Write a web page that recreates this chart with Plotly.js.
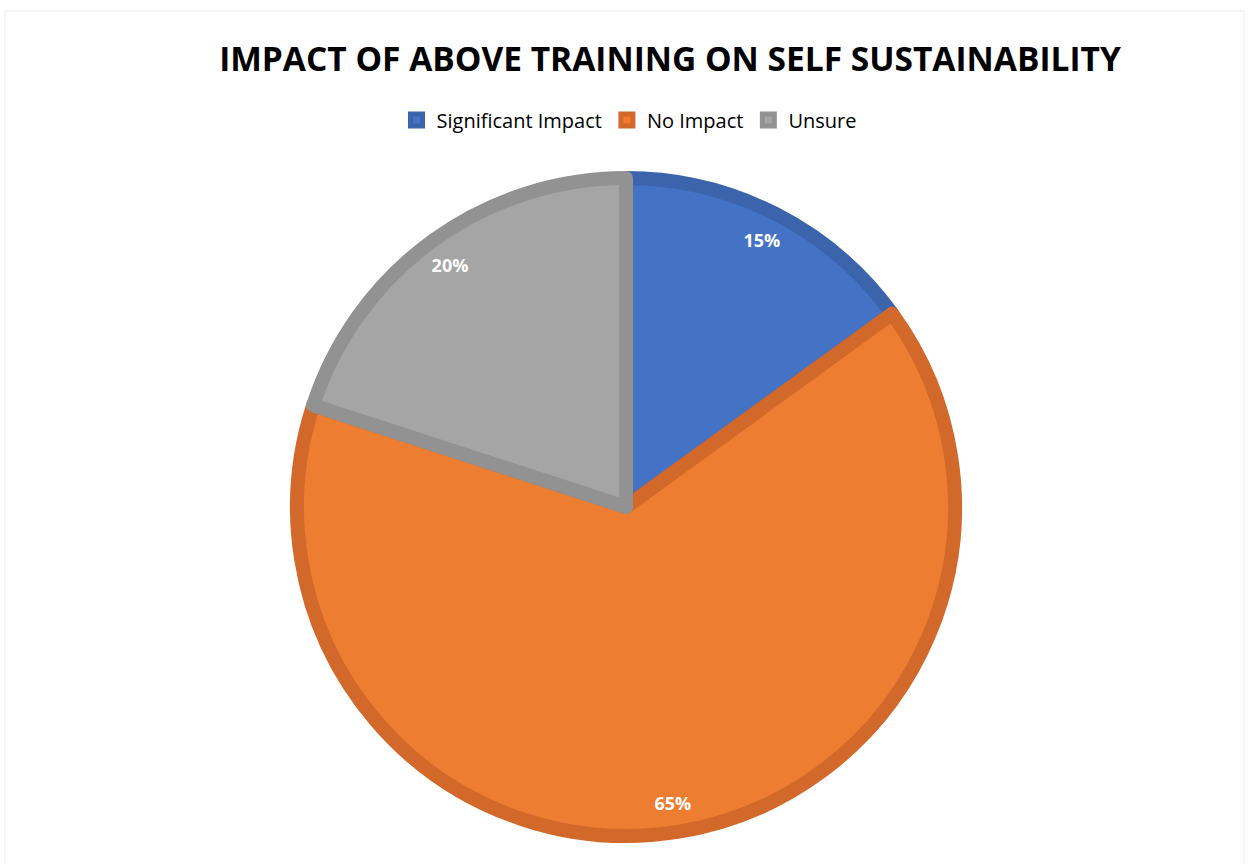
<!DOCTYPE html>
<html>
<head>
<meta charset="utf-8">
<script src="https://cdn.plot.ly/plotly-3.0.1.min.js"></script>
<style>html,body{margin:0;padding:0;background:#fff;}#chart{width:1249px;height:864px;}</style>
</head>
<body>
<div id="chart"></div>
<script>
const categories = ["Significant Impact", "No Impact", "Unsure"];
const shares = [15, 65, 20];
const sliceColors = ["#4472C4", "#ED7D31", "#A5A5A5"];
const edgeColors = ["#3B64AD", "#D2692A", "#929292"];

const W = 1249, H = 864;
const cx = 626, cy = 507, R = 329;
const dom = {
  x: [(cx - R) / W, (cx + R) / W],
  y: [(H - (cy + R)) / H, (H - (cy - R)) / H]
};

const basePie = {
  type: "pie",
  labels: categories,
  values: shares,
  sort: false,
  direction: "clockwise",
  rotation: 0,
  domain: dom,
  marker: { colors: sliceColors, line: { color: edgeColors, width: 14 } },
  textinfo: "none",
  hoverinfo: "label+percent",
  showlegend: true
};

const labelPie = {
  type: "pie",
  labels: categories,
  values: shares,
  sort: false,
  direction: "clockwise",
  rotation: 0,
  hole: 0.82,
  domain: dom,
  marker: { colors: ["rgba(0,0,0,0)", "rgba(0,0,0,0)", "rgba(0,0,0,0)"], line: { width: 0 } },
  texttemplate: "%{percent:.0%}",
  textposition: "inside",
  insidetextorientation: "horizontal",
  textfont: { family: "Open Sans, sans-serif", size: 18, color: "#ffffff", weight: "bold" },
  hoverinfo: "skip",
  showlegend: false
};

const layout = {
  width: W, height: H,
  margin: { l: 0, r: 0, t: 0, b: 0 },
  paper_bgcolor: "#ffffff",
  title: {
    text: "<b>IMPACT OF ABOVE TRAINING ON SELF SUSTAINABILITY</b>",
    font: { family: "Open Sans, sans-serif", size: 33.5, color: "#000000" },
    x: 670 / W, xanchor: "center",
    y: 1 - 59 / H, yanchor: "middle"
  },
  legend: {
    orientation: "h",
    x: 629 / W, xanchor: "center",
    y: 1 - 120 / H, yanchor: "middle",
    font: { family: "Open Sans, sans-serif", size: 20, color: "#000000" },
    traceorder: "normal"
  },
  shapes: [{
    type: "rect", xref: "paper", yref: "paper",
    x0: 5 / W, x1: 1244 / W, y0: -0.01, y1: 1 - 11 / H,
    line: { color: "#ededed", width: 1 }
  }]
};

Plotly.newPlot("chart", [basePie, labelPie], layout, { displayModeBar: false });
</script>
</body>
</html>
